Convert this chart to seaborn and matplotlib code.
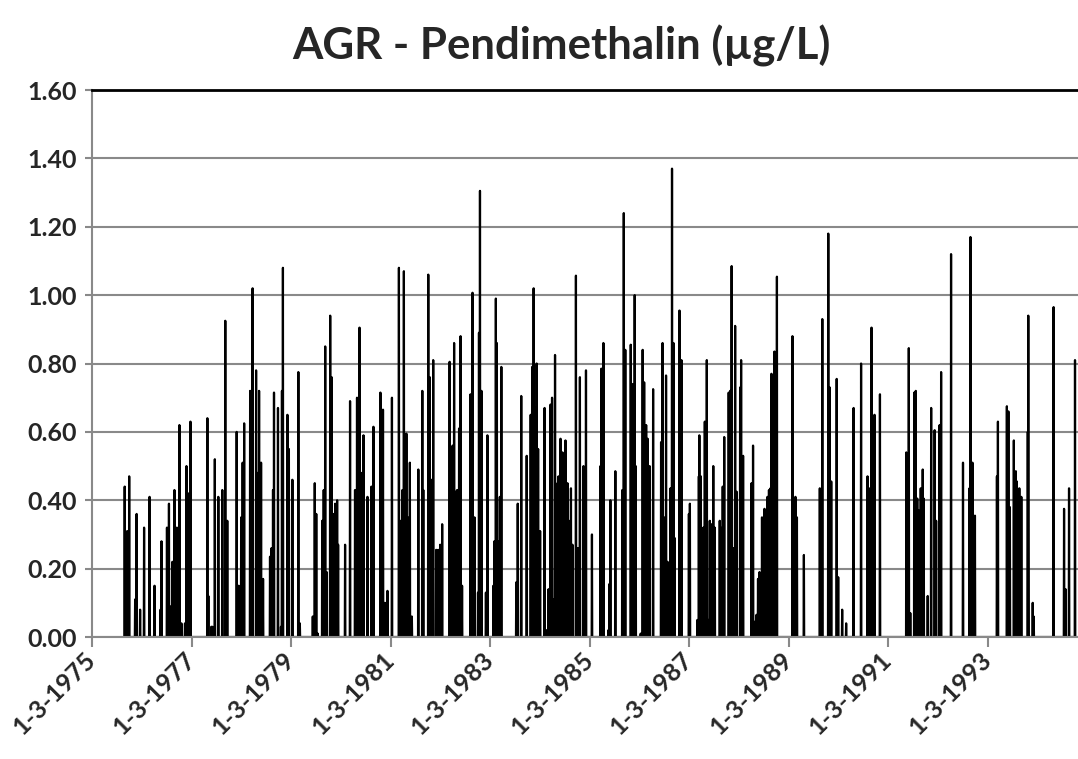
import pandas as pd
import seaborn as sns
import matplotlib.pyplot as plt

# measurement peaks: decimal year of sample, concentration (ug/L)
peak_years = [
    1975.82, 1975.87, 1975.91, 1976.03, 1976.06, 1976.13, 1976.21, 1976.32, 1976.42, 1976.54,
    1976.56, 1976.67, 1976.71, 1976.73, 1976.78, 1976.82, 1976.87, 1976.92, 1976.96, 1977.03,
    1977.06, 1977.10, 1977.14, 1977.48, 1977.50, 1977.56, 1977.58, 1977.63, 1977.70, 1977.78,
    1977.84, 1977.88, 1978.07, 1978.11, 1978.16, 1978.19, 1978.22, 1978.34, 1978.39, 1978.46,
    1978.49, 1978.52, 1978.56, 1978.60, 1978.74, 1978.77, 1978.80, 1978.82, 1978.90, 1978.96,
    1978.98, 1979.00, 1979.09, 1979.12, 1979.19, 1979.31, 1979.34, 1979.60, 1979.64, 1979.67,
    1979.70, 1979.79, 1979.82, 1979.85, 1979.88, 1979.95, 1979.98, 1980.02, 1980.05, 1980.09,
    1980.11, 1980.25, 1980.35, 1980.45, 1980.49, 1980.54, 1980.58, 1980.62, 1980.70, 1980.78,
    1980.82, 1980.96, 1981.01, 1981.05, 1981.10, 1981.19, 1981.33, 1981.37, 1981.40, 1981.43,
    1981.48, 1981.51, 1981.55, 1981.59, 1981.72, 1981.80, 1981.82, 1981.92, 1981.95, 1981.98,
    1982.02, 1982.08, 1982.12, 1982.16, 1982.20, 1982.35, 1982.41, 1982.44, 1982.47, 1982.50,
    1982.54, 1982.57, 1982.60, 1982.77, 1982.81, 1982.85, 1982.92, 1982.94, 1982.96, 1982.99,
    1983.08, 1983.11, 1983.23, 1983.25, 1983.28, 1983.30, 1983.34, 1983.36, 1983.39, 1983.69,
    1983.72, 1983.79, 1983.90, 1983.98, 1984.01, 1984.04, 1984.07, 1984.10, 1984.13, 1984.17,
    1984.26, 1984.30, 1984.34, 1984.38, 1984.41, 1984.44, 1984.47, 1984.52, 1984.54, 1984.58,
    1984.62, 1984.68, 1984.72, 1984.75, 1984.79, 1984.82, 1984.89, 1984.93, 1984.97, 1985.04,
    1985.09, 1985.21, 1985.38, 1985.40, 1985.44, 1985.54, 1985.56, 1985.58, 1985.68, 1985.82,
    1985.85, 1985.88, 1985.99, 1986.03, 1986.07, 1986.09, 1986.19, 1986.23, 1986.26, 1986.30,
    1986.33, 1986.37, 1986.44, 1986.60, 1986.63, 1986.66, 1986.70, 1986.73, 1986.79, 1986.82,
    1986.85, 1986.87, 1986.97, 1987.01, 1987.16, 1987.18, 1987.33, 1987.36, 1987.37, 1987.40,
    1987.42, 1987.45, 1987.48, 1987.52, 1987.56, 1987.58, 1987.62, 1987.65, 1987.68, 1987.78,
    1987.80, 1987.84, 1987.87, 1987.96, 1987.99, 1988.02, 1988.05, 1988.09, 1988.12, 1988.19,
    1988.21, 1988.25, 1988.42, 1988.45, 1988.49, 1988.52, 1988.55, 1988.58, 1988.63, 1988.68,
    1988.70, 1988.74, 1988.77, 1988.80, 1988.82, 1988.88, 1988.93, 1989.24, 1989.30, 1989.33,
    1989.47, 1989.79, 1989.84, 1989.96, 1989.99, 1990.02, 1990.13, 1990.16, 1990.24, 1990.32,
    1990.47, 1990.62, 1990.75, 1990.78, 1990.83, 1990.86, 1990.89, 1991.00, 1991.53, 1991.58,
    1991.61, 1991.69, 1991.72, 1991.75, 1991.78, 1991.82, 1991.86, 1991.88, 1991.96, 1992.03,
    1992.10, 1992.13, 1992.20, 1992.23, 1992.43, 1992.67, 1992.80, 1992.82, 1992.86, 1992.91,
    1993.35, 1993.37, 1993.55, 1993.58, 1993.61, 1993.69, 1993.73, 1993.75, 1993.80, 1993.84,
    1993.97, 1993.98, 1994.07, 1994.09, 1994.49, 1994.70, 1994.73, 1994.80, 1994.92,
]
peak_values = [
    0.44, 0.31, 0.47, 0.11, 0.36, 0.08, 0.32, 0.41, 0.15, 0.08,
    0.28, 0.32, 0.39, 0.09, 0.22, 0.43, 0.32, 0.62, 0.04, 0.04,
    0.50, 0.42, 0.63, 0.64, 0.12, 0.03, 0.03, 0.52, 0.41, 0.43,
    0.925, 0.34, 0.60, 0.15, 0.35, 0.51, 0.625, 0.72, 1.02, 0.78,
    0.48, 0.72, 0.51, 0.17, 0.235, 0.26, 0.43, 0.715, 0.67, 0.03,
    0.72, 1.08, 0.65, 0.55, 0.46, 0.775, 0.04, 0.06, 0.45, 0.36,
    0.01, 0.34, 0.43, 0.85, 0.19, 0.94, 0.76, 0.36, 0.39, 0.40,
    0.27, 0.27, 0.69, 0.43, 0.70, 0.905, 0.48, 0.59, 0.41, 0.44,
    0.615, 0.715, 0.665, 0.10, 0.135, 0.70, 1.08, 0.34, 0.43, 1.07,
    0.595, 0.35, 0.51, 0.06, 0.49, 0.72, 0.43, 1.06, 0.76, 0.46,
    0.81, 0.255, 0.255, 0.27, 0.33, 0.805, 0.56, 0.86, 0.425, 0.43,
    0.61, 0.88, 0.15, 0.71, 1.007, 0.35, 0.13, 0.89, 1.305, 0.72,
    0.13, 0.59, 0.15, 0.28, 0.99, 0.86, 0.28, 0.41, 0.79, 0.16,
    0.39, 0.705, 0.53, 0.65, 0.79, 1.02, 0.67, 0.80, 0.55, 0.31,
    0.67, 0.02, 0.14, 0.68, 0.70, 0.11, 0.825, 0.45, 0.47, 0.58,
    0.54, 0.575, 0.45, 0.34, 0.435, 0.27, 1.057, 0.26, 0.76, 0.50,
    0.78, 0.30, 0.50, 0.785, 0.86, 0.02, 0.155, 0.40, 0.485, 0.43,
    1.24, 0.84, 0.855, 0.74, 1.00, 0.50, 0.01, 0.84, 0.745, 0.62,
    0.58, 0.50, 0.725, 0.57, 0.86, 0.35, 0.765, 0.22, 0.435, 1.37,
    0.86, 0.29, 0.955, 0.81, 0.36, 0.39, 0.05, 0.47, 0.59, 0.47,
    0.09, 0.32, 0.63, 0.81, 0.05, 0.34, 0.33, 0.50, 0.32, 0.34,
    0.32, 0.44, 0.585, 0.715, 0.72, 1.085, 0.26, 0.91, 0.425, 0.73,
    0.81, 0.53, 0.45, 0.56, 0.045, 0.065, 0.17, 0.19, 0.35, 0.375,
    0.26, 0.41, 0.43, 0.435, 0.77, 0.835, 1.054, 0.88, 0.41, 0.35,
    0.24, 0.435, 0.93, 1.18, 0.73, 0.455, 0.755, 0.175, 0.08, 0.04,
    0.67, 0.80, 0.47, 0.435, 0.905, 0.56, 0.65, 0.71, 0.54, 0.845,
    0.07, 0.715, 0.72, 0.405, 0.37, 0.435, 0.49, 0.405, 0.12, 0.67,
    0.605, 0.34, 0.62, 0.775, 1.12, 0.51, 0.435, 1.17, 0.51, 0.355,
    0.47, 0.63, 0.675, 0.66, 0.38, 0.575, 0.485, 0.455, 0.435, 0.41,
    0.60, 0.94, 0.10, 0.06, 0.965, 0.375, 0.14, 0.435, 0.81,
]

title = 'AGR - Pendimethalin (µg/L)'
y_ticks = [0.0, 0.2, 0.4, 0.6, 0.8, 1.0, 1.2, 1.4, 1.6]
tick_dates = pd.date_range('1975-03-01', '1993-03-01', freq='24MS')


def to_date(y):
    year = int(y)
    return pd.Timestamp(year=year, month=1, day=1) + pd.Timedelta(days=(y - year) * 365.25)


# readings between detections are zero, so each peak sits on a zero baseline
half = pd.Timedelta(days=2)
rows = []
for yr, v in zip(peak_years, peak_values):
    d = to_date(yr)
    rows += [(d - half, 0.0), (d, v), (d + half, 0.0)]
df = pd.DataFrame(rows, columns=['date', 'value'])

sns.set_theme(style='white')
plt.rcParams['font.family'] = ['Lato', 'DejaVu Sans']
plt.rcParams['font.weight'] = 'bold'

fig = plt.figure(figsize=(10.78, 7.59), dpi=100)
ax = fig.add_axes([0.0853, 0.1607, 0.9147, 0.7207])

sns.lineplot(data=df, x='date', y='value', color='black', linewidth=1.6,
             estimator=None, ax=ax)

grid_c = '#898989'
ax.set_ylim(0, 1.6)
ax.set_yticks(y_ticks)
ax.set_yticklabels([f'{t:.2f}' for t in y_ticks])
ax.set_xlim(pd.Timestamp('1975-03-01'), pd.Timestamp('1994-12-25'))
ax.set_xticks(tick_dates)
ax.set_xticklabels([f'{d.day}-{d.month}-{d.year}' for d in tick_dates],
                   rotation=45, ha='right', va='center', rotation_mode='anchor')
ax.set_xlabel('')
ax.set_ylabel('')

ax.set_axisbelow(True)
ax.yaxis.grid(True, color=grid_c, linewidth=1.5)
ax.xaxis.grid(False)
for s in ['left', 'bottom']:
    ax.spines[s].set_color(grid_c)
    ax.spines[s].set_linewidth(1.5)
ax.spines['right'].set_visible(False)
ax.spines['top'].set_color('black')
ax.spines['top'].set_linewidth(2)

ax.tick_params(axis='x', bottom=True, direction='out', length=7, width=1.5,
               color=grid_c, labelsize=18, pad=7)
ax.tick_params(axis='y', left=True, direction='out', length=5, width=1.5,
               color=grid_c, labelsize=18, pad=6)
for lab in ax.get_xticklabels() + ax.get_yticklabels():
    lab.set_fontweight('bold')

fig.text(0.5204, 1 - 46 / 759, title, ha='center', va='center',
         fontsize=31.5, fontweight='bold')

plt.savefig('out.png', dpi=100)
